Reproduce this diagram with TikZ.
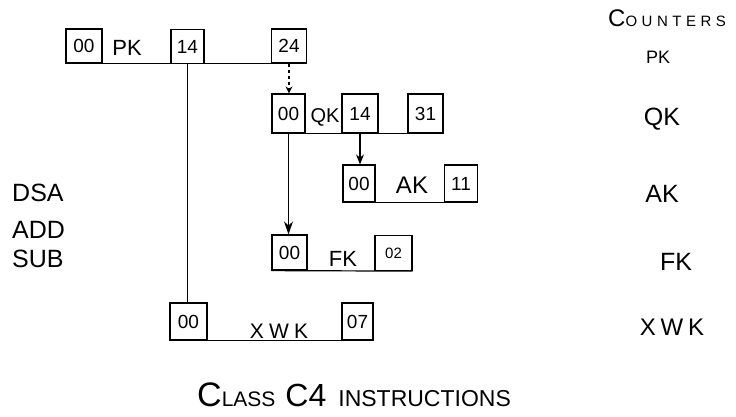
\documentclass[tikz,border=0pt]{standalone}
\usepackage{fontspec}
\setmainfont{Liberation Sans}
\usetikzlibrary{arrows.meta}
\newcommand{\fs}[1]{\fontsize{#1}{#1}\selectfont}
\newcommand{\spc}[1]{\addfontfeature{LetterSpace=#1}}
\begin{document}
\begin{tikzpicture}[x=1pt,y=-1pt,
  cell/.style={draw, line width=1.2pt, inner sep=0pt, font=\fs{19}},
  lbl/.style={font=\fs{22}, inner sep=0pt},
  side/.style={font=\fs{25}, inner sep=0pt},
  base/.style={line width=1.2pt},
  link/.style={line width=1.2pt},
  tip/.style={-{Stealth[length=10pt,width=8pt]}},
  smalltip/.style={-{Stealth[length=7pt,width=7pt]}},
  bigtip/.style={-{Stealth[length=13pt,width=9pt]}}]
\useasboundingbox (0,0) rectangle (736,417);
% PK row
\node[cell, minimum width=36pt, minimum height=34pt] (pk0) at (84,46) {00};
\node[lbl] (pkl) at (127,48) {PK};
\node[cell, minimum width=33pt, minimum height=34pt] (pk14) at (187.5,46.5) {14};
\node[cell, minimum width=35pt, minimum height=34pt] (pk24) at (289,46) {24};
\draw[base] (pk0.south west) -- (pk24.south east);
% QK row
\node[cell, minimum width=33pt, minimum height=39pt] (qk0) at (288.5,113.5) {00};
\node[lbl, font=\fs{20}] (qkl) at (325,117) {QK};
\node[cell, minimum width=36pt, minimum height=39pt] (qk14) at (360,113.5) {14};
\node[cell, minimum width=35pt, minimum height=39pt] (qk31) at (425.5,113.5) {31};
\draw[base] (qk0.south west) -- (qk31.south east);
% AK row
\node[cell, minimum width=32pt, minimum height=37pt] (ak0) at (359,183.5) {00};
\node[lbl, font=\fs{24}] (akl) at (412,185) {AK};
\node[cell, minimum width=33pt, minimum height=37pt] (ak11) at (461,183.5) {11};
\draw[base] (ak0.south west) -- (ak11.south east);
% FK row
\node[cell, minimum width=35pt, minimum height=35pt] (fk0) at (289.5,252.5) {00};
\node[lbl] (fkl) at (343,259) {FK};
\node[cell, minimum width=37pt, minimum height=35pt, font=\fs{15}] (fk02) at (393.5,253) {02};
\draw[base] (fk0.south west) -- (fk02.south east);
% XWK row
\node[cell, minimum width=37pt, minimum height=37pt] (xw0) at (188.5,321.5) {00};
\node[lbl, font=\fs{21}\spc{25}] (xwl) at (279,331) {XWK};
\node[cell, minimum width=31pt, minimum height=37pt] (xw07) at (357.5,321.5) {07};
\draw[base] (xw0.south west) -- (xw07.south east);
% connectors
\draw[link] (pk14.south) -- (pk14.south |- xw0.north);
\draw[link, dashed, smalltip] (pk24.south) -- (pk24.south |- qk0.north);
\draw[link, tip] (qk14.south) -- (qk14.south |- ak0.north);
\draw[link, line width=1.7pt, bigtip] (qk0.south) -- (qk0.south |- fk0.north);
% left texts
\node[side, anchor=west] (dsa) at (12,193) {DSA};
\node[side, anchor=west] (add) at (12,230) {ADD};
\node[side, anchor=west] (sub) at (12,259) {SUB};
% right texts
\node[side, anchor=base west] (cnt) at (608,27) {{\fs{24}C}{\fs{15}\spc{30}OUNTERS}};
\node[side, font=\fs{18}] (rpk) at (658,57) {PK};
\node[side] (rqk) at (662,119) {QK};
\node[side] (rak) at (662,194) {AK};
\node[side] (rfk) at (676,262) {FK};
\node[side, font=\fs{24}\spc{20}] (rxw) at (672,327) {XWK};
% title
\node[side, anchor=base west] (title) at (197,406) {{\fs{34}C}{\fs{21}LASS}\hspace{10pt}{\fs{32}C4}\hspace{12pt}{\fs{23}INSTRUCTIONS}};
\end{tikzpicture}
\end{document}
